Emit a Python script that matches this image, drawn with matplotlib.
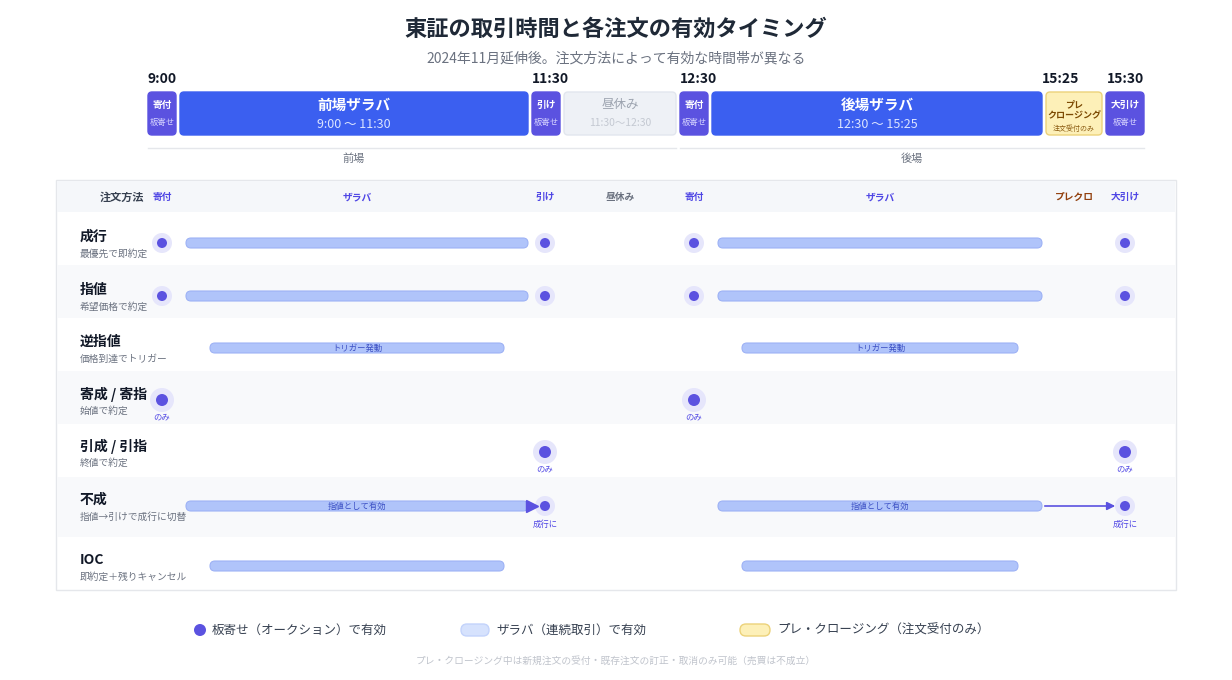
import matplotlib
matplotlib.use("Agg")
import matplotlib.pyplot as plt
from matplotlib.patches import FancyBboxPatch, Circle, Rectangle

plt.rcParams['font.family'] = ['Noto Sans CJK JP', 'DejaVu Sans']

title = "東証の取引時間と各注文の有効タイミング"
subtitle = "2024年11月延伸後。注文方法によって有効な時間帯が異なる"
time_labels = ["9:00", "11:30", "12:30", "15:25", "15:30"]
sessions = [("寄付", "板寄せ", "auction"), ("前場ザラバ", "9:00 〜 11:30", "zaraba"),
            ("引け", "板寄せ", "auction"), ("昼休み", "11:30〜12:30", "lunch"),
            ("寄付", "板寄せ", "auction"), ("後場ザラバ", "12:30 〜 15:25", "zaraba"),
            ("プレ\nクロージング", "注文受付のみ", "pre"), ("大引け", "板寄せ", "auction")]
columns = ["寄付", "ザラバ", "引け", "昼休み", "寄付", "ザラバ", "プレクロ", "大引け"]
orders = ["成行", "指値", "逆指値", "寄成 / 寄指", "引成 / 引指", "不成", "IOC"]
order_notes = ["最優先で即約定", "希望価格で約定", "価格到達でトリガー", "始値で約定",
               "終値で約定", "指値→引けで成行に切替", "即約定＋残りキャンセル"]
# per order: list of (column index, kind, label)
validity = [
    [(0, "dot", ""), (1, "bar", ""), (2, "dot", ""), (4, "dot", ""), (5, "bar", ""), (7, "dot", "")],
    [(0, "dot", ""), (1, "bar", ""), (2, "dot", ""), (4, "dot", ""), (5, "bar", ""), (7, "dot", "")],
    [(1, "short", "トリガー発動"), (5, "short", "トリガー発動")],
    [(0, "big", "のみ"), (4, "big", "のみ")],
    [(2, "big", "のみ"), (7, "big", "のみ")],
    [(1, "arrowbar", "指値として有効"), (2, "dot", "成行に"), (5, "bar", "指値として有効"),
     (6, "arrow", ""), (7, "dot", "成行に")],
    [(1, "short", ""), (5, "short", "")],
]
legend_items = ["板寄せ（オークション）で有効", "ザラバ（連続取引）で有効", "プレ・クロージング（注文受付のみ）"]
footnote = "プレ・クロージング中は新規注文の受付・既存注文の訂正・取消のみ可能（売買は不成立）"

# layout
W, H = 1232, 680
fig = plt.figure(figsize=(W/100, H/100), dpi=100)
ax = fig.add_axes([0, 0, 1, 1])
ax.set_xlim(0, W); ax.set_ylim(H, 0); ax.axis("off")

IND = "#5b52e0"; BLUE = "#3b5ff0"; BAR = "#b0c4fa"; BARE = "#9db2f5"
blocks_x = [(148, 176), (180, 528), (532, 560), (564, 676), (680, 708), (712, 1042), (1046, 1102), (1106, 1144)]
col_x = [162, (186, 528), 545, 620, 694, (718, 1042), 1074, 1125]
short_x = {1: (210, 504), 5: (742, 1018)}
time_x = [148, 532, 680, 1042, 1144]
time_ha = ["left", "left", "left", "left", "right"]

ax.text(616, 29, title, ha="center", va="center", fontsize=16, fontweight="bold", color="#1f2937")
ax.text(616, 58, subtitle, ha="center", va="center", fontsize=10, color="#6b7280")
for t, x, ha in zip(time_labels, time_x, time_ha):
    ax.text(x, 79, t, ha=ha, va="center", fontsize=10, fontweight="bold", color="#111827")

for (name, sub, kind), (x0, x1) in zip(sessions, blocks_x):
    fc = {"auction": IND, "zaraba": BLUE, "lunch": "#eef1f6", "pre": "#fdf0b8"}[kind]
    ec = {"auction": IND, "zaraba": BLUE, "lunch": "#e2e6ee", "pre": "#ecd27a"}[kind]
    ax.add_patch(FancyBboxPatch((x0, 92), x1-x0, 43, boxstyle="round,pad=0,rounding_size=4",
                                fc=fc, ec=ec, lw=1))
    cx = (x0+x1)/2
    if kind == "zaraba":
        ax.text(cx, 105, name, ha="center", va="center", fontsize=10.5, fontweight="bold", color="white")
        ax.text(cx, 124, sub, ha="center", va="center", fontsize=9, color="#dbe4ff")
    elif kind == "lunch":
        ax.text(cx, 104, name, ha="center", va="center", fontsize=9, color="#9ca3af")
        ax.text(cx, 123, sub, ha="center", va="center", fontsize=7.5, color="#c4c9d2")
    elif kind == "pre":
        ax.text(cx, 110, name, ha="center", va="center", fontsize=6.5, fontweight="bold", color="#7c4a03", linespacing=1.3)
        ax.text(cx, 129, sub, ha="center", va="center", fontsize=5, color="#8a5a10")
    else:
        ax.text(cx, 105, name, ha="center", va="center", fontsize=7, fontweight="bold", color="white")
        ax.text(cx, 122, sub, ha="center", va="center", fontsize=6, color="#d6d4ff")

ax.plot([148, 676], [148, 148], color="#e5e7eb", lw=1)
ax.plot([680, 1144], [148, 148], color="#e5e7eb", lw=1)
ax.text(354, 159, "前場", ha="center", va="center", fontsize=8, color="#6b7280")
ax.text(912, 159, "後場", ha="center", va="center", fontsize=8, color="#6b7280")

# table
ax.add_patch(Rectangle((56, 180), 1120, 410, fc="white", ec="#e5e7eb", lw=1))
ax.add_patch(Rectangle((57, 181), 1118, 31, fc="#f5f7fa", ec="none"))
ax.text(100, 197, "注文方法", ha="left", va="center", fontsize=8, fontweight="bold", color="#374151")
for i, c in enumerate(columns):
    x = col_x[i]; x = (x[0]+x[1])/2 if isinstance(x, tuple) else x
    color = {"昼休み": "#6b7280", "プレクロ": "#92400e"}.get(c, "#4f46e5")
    ax.text(x, 197, c, ha="center", va="center", fontsize=7, fontweight="bold", color=color)

row_y = [243, 296, 348, 400, 452, 506, 566]
row_bounds = [212, 265, 318, 371, 424, 477, 537, 589]
for r, (name, note) in enumerate(zip(orders, order_notes)):
    if r % 2 == 1:
        ax.add_patch(Rectangle((57, row_bounds[r]), 1118, row_bounds[r+1]-row_bounds[r], fc="#f8f9fb", ec="none"))
    y = row_y[r]
    ax.text(80, y-6, name, ha="left", va="center", fontsize=10, fontweight="bold", color="#111827")
    ax.text(80, y+11, note, ha="left", va="center", fontsize=7, color="#6b7280")
    for ci, kind, lab in validity[r]:
        if kind in ("bar", "arrowbar", "short"):
            x0, x1 = short_x[ci] if kind == "short" else col_x[ci]
            ax.add_patch(FancyBboxPatch((x0, y-5), x1-x0, 10, boxstyle="round,pad=0,rounding_size=5",
                                        fc=BAR, ec=BARE, lw=0.8, zorder=3))
            if lab:
                ax.text((x0+x1)/2, y, lab, ha="center", va="center", fontsize=6, color="#3b4fc4", zorder=4)
            if kind == "arrowbar":
                ax.plot([x1+4], [y], marker=">", ms=8, color=IND, zorder=4)
        elif kind == "arrow":
            ax.annotate("", xy=(1118, y), xytext=(1042, y),
                        arrowprops=dict(arrowstyle="-|>", color=IND, lw=1.2, mutation_scale=12), zorder=4)
        else:
            x = col_x[ci]
            big = kind == "big"
            ax.add_patch(Circle((x, y), 12 if big else 10, fc="#e6e6fb", ec="none", zorder=3))
            ax.add_patch(Circle((x, y), 6 if big else 5, fc=IND, ec="none", zorder=4))
            if lab:
                ax.text(x, y+18 if not big else y+17, lab, ha="center", va="center", fontsize=6, color="#4f46e5")

# legend
ax.add_patch(Circle((200, 630), 6, fc=IND, ec="none"))
ax.text(212, 630, legend_items[0], ha="left", va="center", fontsize=9, color="#374151")
ax.add_patch(FancyBboxPatch((461, 624), 28, 12, boxstyle="round,pad=0,rounding_size=6", fc="#d6e2fd", ec="#c3d3fb"))
ax.text(496, 630, legend_items[1], ha="left", va="center", fontsize=9, color="#374151")
ax.add_patch(FancyBboxPatch((740, 624), 30, 12, boxstyle="round,pad=0,rounding_size=6", fc="#fdf0b8", ec="#ecd27a"))
ax.text(777, 630, legend_items[2], ha="left", va="center", fontsize=9, color="#374151")
ax.text(616, 661, footnote, ha="center", va="center", fontsize=7, color="#c0c4cc")

fig.savefig("out.png", dpi=100)
